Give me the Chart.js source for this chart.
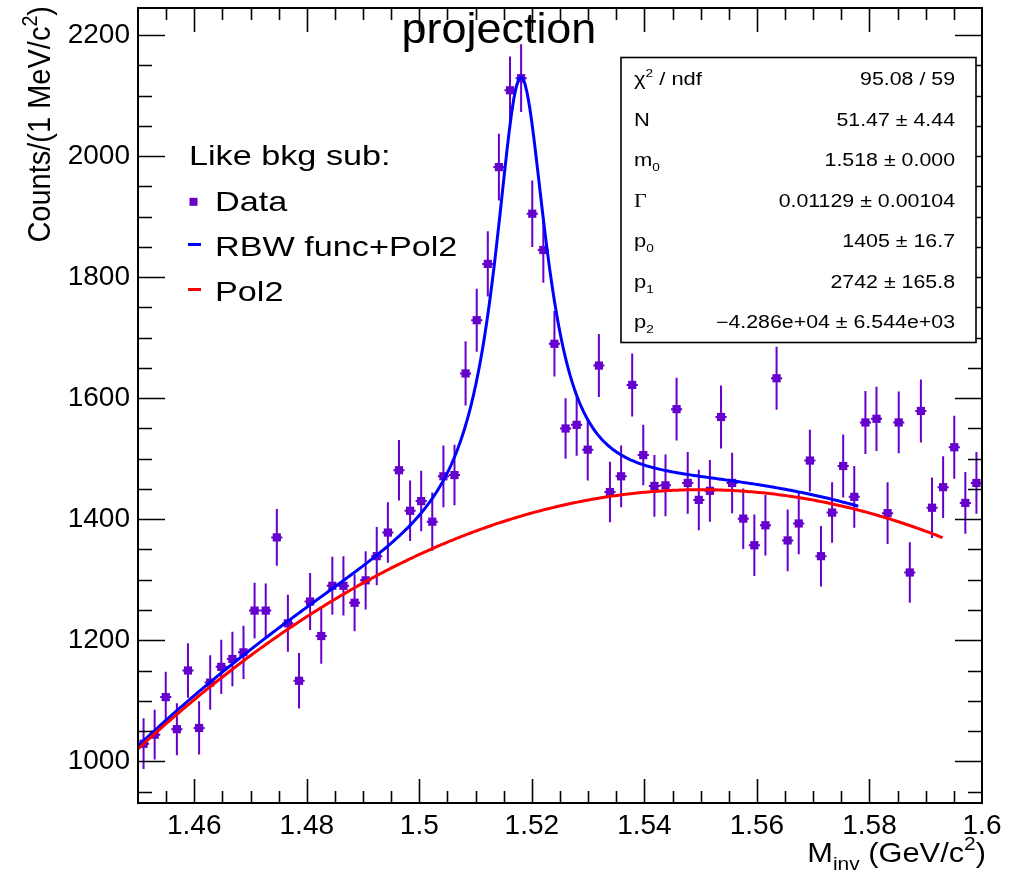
<!DOCTYPE html>
<html>
<head>
<meta charset="utf-8">
<title>projection</title>
<script src="https://cdn.jsdelivr.net/npm/chart.js@4.4.0/dist/chart.umd.min.js"></script>
<style>
  html, body { margin: 0; padding: 0; background: #ffffff; }
  #wrap { width: 1011px; height: 872px; position: relative; }
  canvas { display: block; }
</style>
</head>
<body>
<div id="wrap"><canvas id="c" width="1011" height="872"></canvas></div>
<script>
// ---- Histogram: invariant-mass projection, 76 bins over [1.45, 1.60] GeV/c^2 ----
const binCenters = [
  1.45099, 1.45296, 1.45493, 1.45691, 1.45888, 1.46086, 1.46283, 1.46480, 1.46678, 1.46875,
  1.47072, 1.47270, 1.47467, 1.47664, 1.47862, 1.48059, 1.48257, 1.48454, 1.48651, 1.48849,
  1.49046, 1.49243, 1.49441, 1.49638, 1.49836, 1.50033, 1.50230, 1.50428, 1.50625, 1.50822,
  1.51020, 1.51217, 1.51414, 1.51612, 1.51809, 1.52007, 1.52204, 1.52401, 1.52599, 1.52796,
  1.52993, 1.53191, 1.53388, 1.53586, 1.53783, 1.53980, 1.54178, 1.54375, 1.54572, 1.54770,
  1.54967, 1.55164, 1.55362, 1.55559, 1.55757, 1.55954, 1.56151, 1.56349, 1.56546, 1.56743,
  1.56941, 1.57138, 1.57336, 1.57533, 1.57730, 1.57928, 1.58125, 1.58322, 1.58520, 1.58717,
  1.58914, 1.59112, 1.59309, 1.59507, 1.59704, 1.59901
];
const binHalfWidth = 0.00099;

const counts = [
  1029, 1044, 1106, 1053, 1150, 1055, 1130, 1156, 1169, 1180,
  1249, 1249, 1370, 1228, 1133, 1264, 1207, 1290, 1290, 1262,
  1299, 1339, 1378, 1481, 1414, 1430, 1396, 1471, 1473, 1641,
  1729, 1822, 1982, 2109, 2129, 1905, 1845, 1690, 1550, 1556,
  1515, 1654, 1445, 1471, 1622, 1506, 1455, 1456, 1582, 1460,
  1432, 1447, 1569, 1460, 1401, 1357, 1390, 1633, 1365, 1393,
  1497, 1339, 1411, 1488, 1437, 1560, 1566, 1410, 1560, 1312,
  1579, 1419, 1453, 1519, 1427, 1460
];

const countErrors = [
  42, 41, 42, 43, 45, 44, 45, 45, 45, 44,
  46, 45, 47, 47, 46, 47, 46, 48, 49, 47,
  48, 48, 50, 50, 50, 50, 48, 51, 50, 53,
  52, 54, 55, 56, 56, 55, 54, 54, 50, 51,
  51, 52, 50, 51, 52, 50, 51, 51, 52, 51,
  50, 51, 52, 50, 50, 51, 50, 52, 51, 51,
  51, 50, 50, 52, 51, 52, 53, 51, 51, 50,
  52, 50, 51, 52, 51, 51
];

// ---- Fit result (RBW + 2nd-order polynomial in (m - m0)) ----
const fitN = 51.47, fitM0 = 1.518, fitGamma = 0.01129;
const fitP0 = 1405, fitP1 = 2742, fitP2 = -4.286e4;
const signalRange = [1.45, 1.578];
const bkgRange = [1.45, 1.593];

// ---- Axes ----
const xMin = 1.45, xMax = 1.60, yMin = 931, yMax = 2245;
const xTickValues = [1.46, 1.48, 1.50, 1.52, 1.54, 1.56, 1.58, 1.60];
const xTickLabels = ['1.46', '1.48', '1.5', '1.52', '1.54', '1.56', '1.58', '1.6'];
const yTickValues = [1000, 1200, 1400, 1600, 1800, 2000, 2200];
const yTickLabels = ['1000', '1200', '1400', '1600', '1800', '2000', '2200'];
const xMinorStep = 0.005, yMinorStep = 50;

// ---- Stats box rows ----
const statNames = [
  [{t: 'χ'}, {t: '2', s: 0.62, dy: -0.42}, {t: ' / ndf'}],
  [{t: 'N'}],
  [{t: 'm'}, {t: '0', s: 0.62, dy: 0.3}],
  [{t: 'Γ', f: '"Liberation Serif", serif'}],
  [{t: 'p'}, {t: '0', s: 0.62, dy: 0.3}],
  [{t: 'p'}, {t: '1', s: 0.62, dy: 0.3}],
  [{t: 'p'}, {t: '2', s: 0.62, dy: 0.3}]
];
const statValues = [
  '95.08 / 59', '51.47 ± 4.44', '1.518 ± 0.000', '0.01129 ± 0.00104',
  '1405 ± 16.7', '2742 ± 165.8', '−4.286e+04 ± 6.544e+03'
];

const legendTitle = 'Like bkg sub:';
const legendLabels = ['Data', 'RBW func+Pol2', 'Pol2'];

const DATA_COLOR = '#6600cc';
const SIG_COLOR = '#0000ff';
const BKG_COLOR = '#ff0000';
const FONT = '"Liberation Sans", Arial, Helvetica, sans-serif';

// fit model
function pol2(m) {
  const d = m - fitM0;
  return fitP0 + fitP1 * d + fitP2 * d * d;
}
function rbw(m) {
  const d2 = m * m - fitM0 * fitM0;
  return fitN / (2 * Math.PI) * m * fitM0 * fitGamma / (d2 * d2 + fitM0 * fitM0 * fitGamma * fitGamma);
}
function sampleCurve(fn, range, step) {
  const pts = [];
  const n = Math.round((range[1] - range[0]) / step);
  for (let k = 0; k <= n; k++) {
    const m = range[0] + (range[1] - range[0]) * k / n;
    pts.push({x: m, y: fn(m)});
  }
  return pts;
}

const dataPoints = binCenters.map((m, i) => ({x: m, y: counts[i]}));
const signalCurve = sampleCurve(m => rbw(m) + pol2(m), signalRange, 0.0004);
const bkgCurve = sampleCurve(pol2, bkgRange, 0.0004);

// text helpers: rich text runs with optional sub/superscripts
function runWidths(ctx, segs, size, family) {
  return segs.map(sg => {
    ctx.font = `${size * (sg.s || 1)}px ${sg.f || family}`;
    return ctx.measureText(sg.t).width;
  });
}
function drawRich(ctx, segs, x, y, size, sx, align, family) {
  family = family || FONT;
  ctx.save();
  const widths = runWidths(ctx, segs, size, family);
  const total = widths.reduce((a, b) => a + b, 0);
  ctx.translate(x, y);
  ctx.scale(sx, 1);
  ctx.textBaseline = 'alphabetic';
  ctx.textAlign = 'left';
  let cx = align === 'right' ? -total : (align === 'center' ? -total / 2 : 0);
  segs.forEach((sg, i) => {
    ctx.font = `${size * (sg.s || 1)}px ${sg.f || family}`;
    ctx.fillText(sg.t, cx, (sg.dy || 0) * size);
    cx += widths[i];
  });
  ctx.restore();
}

// vertical + horizontal error bars under the markers
const errorBars = {
  id: 'errorBars',
  beforeDatasetsDraw(chart) {
    const {ctx, chartArea: a, scales: {x, y}} = chart;
    ctx.save();
    ctx.beginPath();
    ctx.rect(a.left, a.top, a.right - a.left, a.bottom - a.top);
    ctx.clip();
    ctx.strokeStyle = DATA_COLOR;
    ctx.lineWidth = 2;
    binCenters.forEach((m, i) => {
      const px = x.getPixelForValue(m);
      const py = y.getPixelForValue(counts[i]);
      const yt = y.getPixelForValue(counts[i] + countErrors[i]);
      const yb = y.getPixelForValue(counts[i] - countErrors[i]);
      const xl = x.getPixelForValue(m - binHalfWidth);
      const xr = x.getPixelForValue(m + binHalfWidth);
      ctx.beginPath();
      ctx.moveTo(px, yt); ctx.lineTo(px, yb);
      ctx.moveTo(xl, py); ctx.lineTo(xr, py);
      ctx.stroke();
    });
    ctx.restore();
  }
};

// frame with inward ticks on all four sides, title, legend, stats box, axis titles
const decorations = {
  id: 'decorations',
  afterDatasetsDraw(chart) {
    const {ctx, chartArea: a, scales: {x, y}} = chart;
    ctx.save();
    ctx.strokeStyle = '#000';
    ctx.lineWidth = 1.6;
    ctx.beginPath();
    const nx = Math.round((xMax - xMin) / xMinorStep);
    for (let k = 1; k < nx; k++) {
      const v = xMin + k * xMinorStep;
      const major = xTickValues.some(t => Math.abs(t - v) < 1e-7);
      const len = major ? 24 : 12;
      const px = Math.round(x.getPixelForValue(v)) + 0.5;
      ctx.moveTo(px, a.bottom); ctx.lineTo(px, a.bottom - len);
      ctx.moveTo(px, a.top); ctx.lineTo(px, a.top + len);
    }
    for (let v = Math.ceil(yMin / yMinorStep) * yMinorStep; v < yMax; v += yMinorStep) {
      const major = yTickValues.includes(v);
      const len = major ? 27 : 14;
      const py = Math.round(y.getPixelForValue(v)) + 0.5;
      ctx.moveTo(a.left, py); ctx.lineTo(a.left + len, py);
      ctx.moveTo(a.right, py); ctx.lineTo(a.right - len, py);
    }
    ctx.stroke();
    ctx.lineWidth = 2;
    ctx.strokeRect(a.left, a.top, a.right - a.left, a.bottom - a.top);
    ctx.restore();
  },
  afterDraw(chart) {
    const {ctx} = chart;
    ctx.save();
    ctx.fillStyle = '#000';

    // title
    drawRich(ctx, [{t: 'projection'}], 401.5, 43, 42, 1.07, 'left');

    // legend
    drawRich(ctx, [{t: legendTitle}], 189, 165, 28.5, 1.2, 'left');
    ctx.fillStyle = DATA_COLOR;
    ctx.fillRect(189.5, 197.8, 8, 8);
    ctx.fillStyle = '#000';
    drawRich(ctx, [{t: legendLabels[0]}], 215, 210.5, 28.5, 1.2, 'left');
    ctx.lineWidth = 3;
    ctx.strokeStyle = SIG_COLOR;
    ctx.beginPath(); ctx.moveTo(188, 244.5); ctx.lineTo(201, 244.5); ctx.stroke();
    drawRich(ctx, [{t: legendLabels[1]}], 215, 256, 28.5, 1.2, 'left');
    ctx.strokeStyle = BKG_COLOR;
    ctx.beginPath(); ctx.moveTo(188, 289.5); ctx.lineTo(201, 289.5); ctx.stroke();
    drawRich(ctx, [{t: legendLabels[2]}], 215, 301, 28.5, 1.2, 'left');

    // stats box
    ctx.fillStyle = '#fff';
    ctx.fillRect(621, 57.5, 355, 285);
    ctx.strokeStyle = '#000';
    ctx.lineWidth = 1.6;
    ctx.strokeRect(621, 57.5, 355, 285);
    ctx.fillStyle = '#000';
    statNames.forEach((segs, i) => {
      const base = 85 + i * 40.5;
      drawRich(ctx, segs, 634, base, 18, 1.22, 'left');
      drawRich(ctx, [{t: statValues[i]}], 955, base, 17.5, 1.22, 'right');
    });

    // x axis title
    drawRich(ctx, [
      {t: 'M'}, {t: 'inv', s: 0.68, dy: 0.28}, {t: ' (GeV/c'}, {t: '2', s: 0.68, dy: -0.42}, {t: ')'}
    ], 986, 862, 28, 1.1, 'right');

    // y axis title (rotated, aligned to the top of the frame)
    ctx.save();
    ctx.translate(50, 6);
    ctx.scale(1.1, 1);
    ctx.rotate(-Math.PI / 2);
    drawRich(ctx, [
      {t: 'Counts/(1 MeV/c'}, {t: '2', s: 0.68, dy: -0.42}, {t: ')'}
    ], 0, 0, 29, 1, 'right');
    ctx.restore();

    ctx.restore();
  }
};

new Chart(document.getElementById('c'), {
  type: 'scatter',
  data: {
    datasets: [
      {
        label: legendLabels[2],
        data: bkgCurve,
        showLine: true,
        borderColor: BKG_COLOR,
        borderWidth: 3,
        pointRadius: 0,
        tension: 0,
        order: 1
      },
      {
        label: legendLabels[1],
        data: signalCurve,
        showLine: true,
        borderColor: SIG_COLOR,
        borderWidth: 3,
        pointRadius: 0,
        tension: 0,
        order: 2
      },
      {
        label: legendLabels[0],
        data: dataPoints,
        showLine: false,
        pointStyle: 'rect',
        pointRadius: 5.8,
        pointBorderWidth: 0,
        backgroundColor: DATA_COLOR,
        borderColor: DATA_COLOR,
        order: 3
      }
    ]
  },
  options: {
    responsive: false,
    animation: false,
    devicePixelRatio: 1,
    layout: {padding: {left: 0, top: 8, right: 29, bottom: 0}},
    plugins: {legend: {display: false}, tooltip: {enabled: false}, title: {display: false}},
    scales: {
      x: {
        type: 'linear',
        min: xMin,
        max: xMax,
        grid: {display: false, drawTicks: false},
        border: {display: false},
        afterBuildTicks: s => { s.ticks = xTickValues.map(v => ({value: v})); },
        afterFit: s => { s.height = 69; s.paddingLeft = 0; s.paddingRight = 0; },
        ticks: {
          autoSkip: false,
          maxRotation: 0,
          padding: 6,
          color: '#000',
          font: {family: FONT, size: 28},
          callback: v => xTickLabels[xTickValues.findIndex(t => Math.abs(t - v) < 1e-7)]
        }
      },
      y: {
        type: 'linear',
        min: yMin,
        max: yMax,
        grid: {display: false, drawTicks: false},
        border: {display: false},
        afterBuildTicks: s => { s.ticks = yTickValues.map(v => ({value: v})); },
        afterFit: s => { s.width = 138; s.paddingTop = 0; s.paddingBottom = 0; },
        ticks: {
          autoSkip: false,
          padding: 8,
          color: '#000',
          font: {family: FONT, size: 28},
          callback: v => yTickLabels[yTickValues.indexOf(v)]
        }
      }
    }
  },
  plugins: [errorBars, decorations]
});
</script>
</body>
</html>
